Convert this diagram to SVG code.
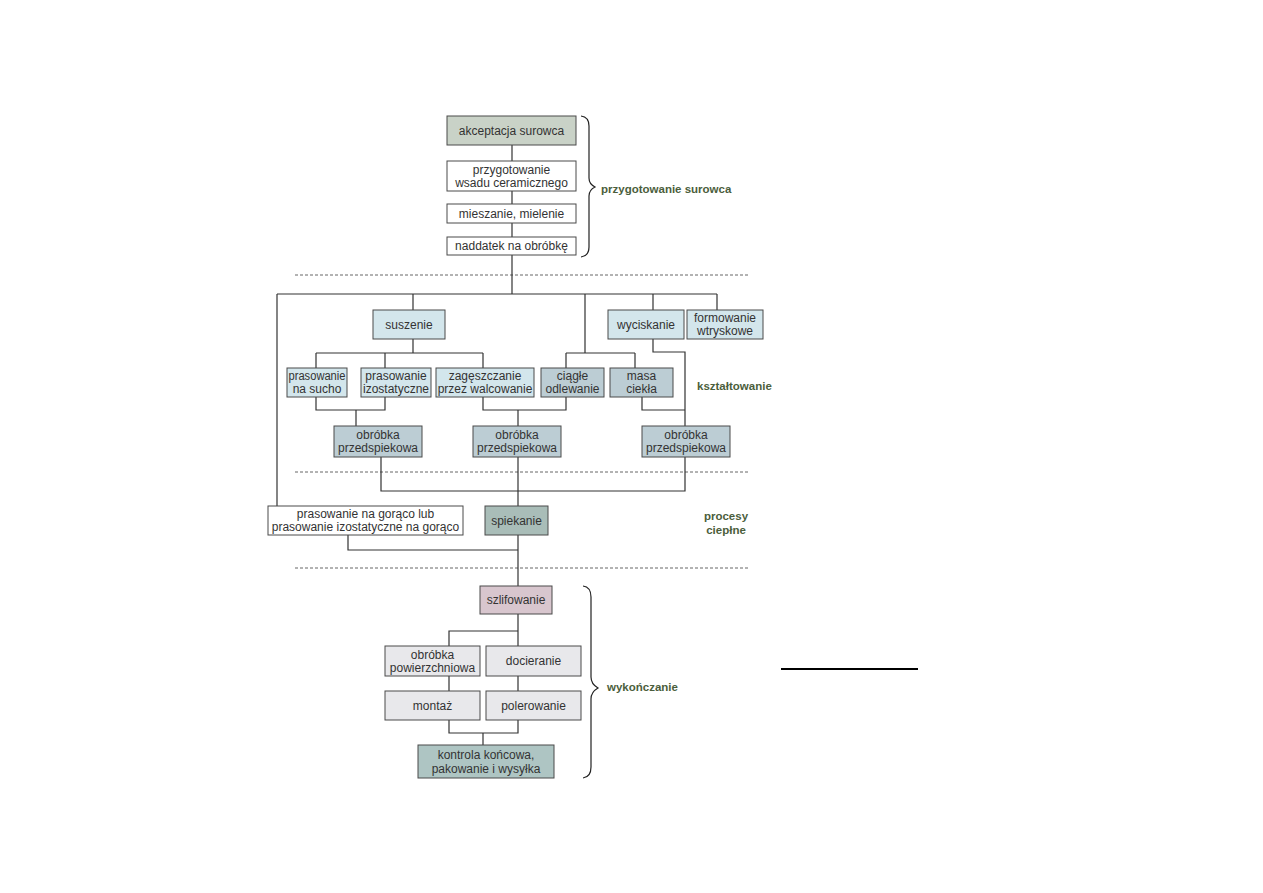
<svg xmlns="http://www.w3.org/2000/svg" width="1263" height="893" viewBox="0 0 1263 893">
<style>
.b{stroke:#4a4a4a;stroke-width:1}
.t{font-family:"Liberation Sans",Arial,sans-serif;font-size:12px;fill:#333;text-anchor:middle}
.l{font-family:"Liberation Sans",Arial,sans-serif;font-size:11.5px;font-weight:bold;fill:#4b5e3c}
.c{fill:none;stroke:#333;stroke-width:1.2}
.d{fill:none;stroke:#666;stroke-width:1;stroke-dasharray:3,2}
.white{fill:#fff}.green{fill:#c9d2c7}.lb{fill:#d3e6ec}.mb{fill:#bccdd4}.sp{fill:#a9bdb8}.pk{fill:#d8c6ce}.gr{fill:#e8e8eb}.ko{fill:#aec5c3}
</style>
<rect width="1263" height="893" fill="#fff"/>
<g id="dividers">
<line class="d" x1="295" y1="275" x2="748" y2="275"/>
<line class="d" x1="295" y1="472" x2="748" y2="472"/>
<line class="d" x1="295" y1="568" x2="748" y2="568"/>
</g>
<g id="connectors">
<path class="c" d="M512 145V294"/>
<path class="c" d="M277 294H717"/>
<path class="c" d="M277 294V506"/>
<path class="c" d="M413 294V310M585 294V353M653 294V310M717 294V310"/>
<path class="c" d="M413 339V353M316 353H483M316 353V368M385 353V368M483 353V368"/>
<path class="c" d="M566 353H635M566 353V368M635 353V368"/>
<path class="c" d="M653 339V352H685V426"/>
<path class="c" d="M316 397V410H385V397M356 410V426"/>
<path class="c" d="M483 397V410H566V397M518 410V426"/>
<path class="c" d="M642 397V410H685"/>
<path class="c" d="M381 457V491H685V457"/>
<path class="c" d="M518 457V586"/>
<path class="c" d="M348 535V550H518"/>
<path class="c" d="M518 614V631H449V646M518 631V646"/>
<path class="c" d="M449 676V691M518 676V691"/>
<path class="c" d="M449 720V733H518V720M483 733V745"/>
</g>
<g id="n1"><rect class="b green" x="447" y="116" width="129" height="29"/><text class="t" x="511.5" y="135">akceptacja surowca</text></g>
<g id="n2"><rect class="b white" x="447" y="161" width="129" height="30"/><text class="t" x="511.5" y="174">przygotowanie</text><text class="t" x="511.5" y="187">wsadu ceramicznego</text></g>
<g id="n3"><rect class="b white" x="447" y="204" width="129" height="19"/><text class="t" x="511.5" y="217.5">mieszanie, mielenie</text></g>
<g id="n4"><rect class="b white" x="447" y="237" width="129" height="18"/><text class="t" x="511.5" y="250">naddatek na obróbkę</text></g>
<g id="n5"><rect class="b lb" x="373" y="310" width="72" height="29"/><text class="t" x="409" y="329">suszenie</text></g>
<g id="n6"><rect class="b lb" x="608" y="310" width="76" height="29"/><text class="t" x="646" y="329">wyciskanie</text></g>
<g id="n7"><rect class="b lb" x="687" y="310" width="76" height="29"/><text class="t" x="725" y="322">formowanie</text><text class="t" x="725" y="335">wtryskowe</text></g>
<g id="n8"><rect class="b lb" x="287" y="368" width="60" height="29"/><text class="t" x="317" y="380" textLength="57" lengthAdjust="spacingAndGlyphs">prasowanie</text><text class="t" x="317" y="393">na sucho</text></g>
<g id="n9"><rect class="b lb" x="361" y="368" width="70" height="29"/><text class="t" x="396" y="380">prasowanie</text><text class="t" x="396" y="393">izostatyczne</text></g>
<g id="n10"><rect class="b lb" x="436" y="368" width="98" height="29"/><text class="t" x="485" y="380">zagęszczanie</text><text class="t" x="485" y="393">przez walcowanie</text></g>
<g id="n11"><rect class="b mb" x="541" y="368" width="63" height="29"/><text class="t" x="572.5" y="380">ciągłe</text><text class="t" x="572.5" y="393">odlewanie</text></g>
<g id="n12"><rect class="b mb" x="610" y="368" width="63" height="29"/><text class="t" x="641.5" y="380">masa</text><text class="t" x="641.5" y="393">ciekła</text></g>
<g id="n13"><rect class="b mb" x="334" y="426" width="88" height="31"/><text class="t" x="378" y="439">obróbka</text><text class="t" x="378" y="452">przedspiekowa</text></g>
<g id="n14"><rect class="b mb" x="473" y="426" width="88" height="31"/><text class="t" x="517" y="439">obróbka</text><text class="t" x="517" y="452">przedspiekowa</text></g>
<g id="n15"><rect class="b mb" x="642" y="426" width="88" height="31"/><text class="t" x="686" y="439">obróbka</text><text class="t" x="686" y="452">przedspiekowa</text></g>
<g id="n16"><rect class="b white" x="268" y="506" width="195" height="29"/><text class="t" x="365.5" y="518">prasowanie na gorąco lub</text><text class="t" x="365.5" y="531">prasowanie izostatyczne na gorąco</text></g>
<g id="n17"><rect class="b sp" x="485" y="506" width="63" height="29"/><text class="t" x="516.5" y="524.5">spiekanie</text></g>
<g id="n18"><rect class="b pk" x="480" y="586" width="72" height="28"/><text class="t" x="516" y="604">szlifowanie</text></g>
<g id="n19"><rect class="b gr" x="385" y="646" width="95" height="30"/><text class="t" x="432.5" y="659">obróbka</text><text class="t" x="432.5" y="672">powierzchniowa</text></g>
<g id="n20"><rect class="b gr" x="486" y="646" width="95" height="30"/><text class="t" x="533.5" y="665">docieranie</text></g>
<g id="n21"><rect class="b gr" x="385" y="691" width="95" height="29"/><text class="t" x="432.5" y="709.5">montaż</text></g>
<g id="n22"><rect class="b gr" x="486" y="691" width="95" height="29"/><text class="t" x="533.5" y="709.5">polerowanie</text></g>
<g id="n23"><rect class="b ko" x="418" y="745" width="136" height="33"/><text class="t" x="486" y="759">kontrola końcowa,</text><text class="t" x="486" y="773">pakowanie i wysyłka</text></g>
<g id="braces">
<path d="M581 116Q589 117 589 126V178Q589 184 595 187Q589 190 589 196V247Q589 256 581 257" fill="none" stroke="#222" stroke-width="1.2"/>
<path d="M583 586Q591 587 591 597V677Q591 684 598 688Q591 692 591 699V767Q591 777 583 778" fill="none" stroke="#222" stroke-width="1.2"/>
</g>
<g id="labels">
<text class="l" x="601" y="193">przygotowanie surowca</text>
<text class="l" x="697" y="390">kształtowanie</text>
<text class="l" x="726" y="520" text-anchor="middle">procesy</text>
<text class="l" x="726" y="534" text-anchor="middle">ciepłne</text>
<text class="l" x="607" y="691">wykończanie</text>
</g>
<line x1="781" y1="669" x2="918" y2="669" stroke="#000" stroke-width="2"/>
</svg>
